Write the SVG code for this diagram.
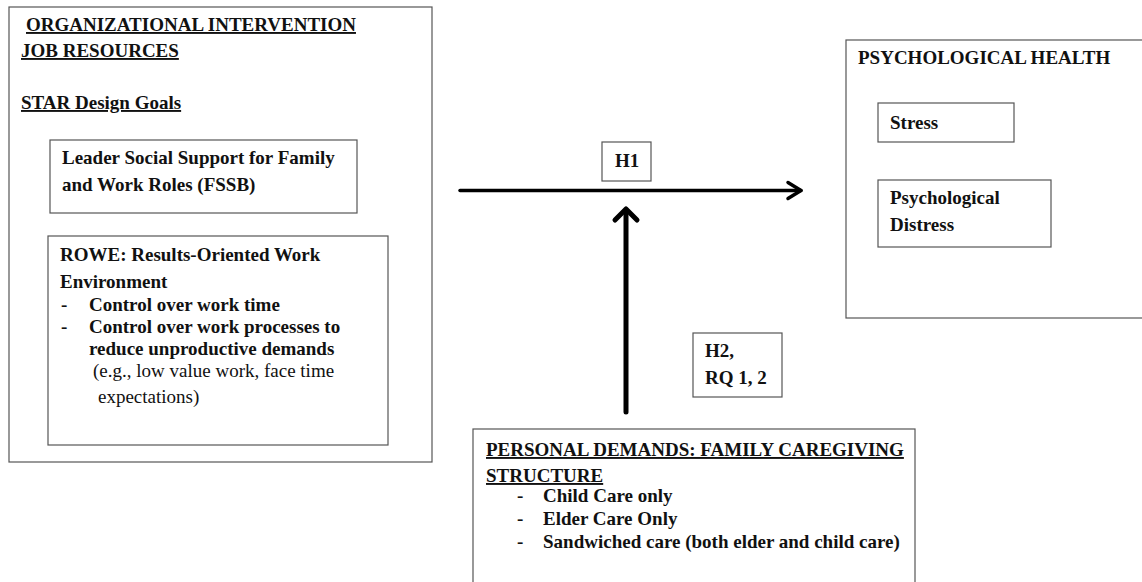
<svg xmlns="http://www.w3.org/2000/svg" width="1142" height="582" viewBox="0 0 1142 582">
<style>
.box{fill:#fff;stroke:#555;stroke-width:1.2}
text{font-family:'Liberation Serif','Times New Roman',serif;fill:#111;font-size:19px}
.b{font-weight:bold}
.u{text-decoration:underline}
.r{font-weight:normal}
.conn{stroke:#000;fill:none;stroke-linecap:round;stroke-linejoin:round}
</style>
<rect width="1142" height="582" fill="#fff"/>
<g id="organizational-intervention">
<rect class="box" x="9" y="7" width="423" height="455"/>
<text class="b u" x="26" y="31">ORGANIZATIONAL INTERVENTION</text>
<text class="b u" x="21" y="57">JOB RESOURCES</text>
<text class="b u" x="21" y="109">STAR Design Goals</text>
</g>
<g id="fssb">
<rect class="box" x="50" y="140" width="307" height="73"/>
<text class="b" x="62" y="164">Leader Social Support for Family</text>
<text class="b" x="62" y="191">and Work Roles (FSSB)</text>
</g>
<g id="rowe">
<rect class="box" x="48" y="236" width="340" height="209"/>
<text class="b" x="60" y="261">ROWE: Results-Oriented Work</text>
<text class="b" x="60" y="288">Environment</text>
<text class="b" x="61" y="311">-</text>
<text class="b" x="89" y="311">Control over work time</text>
<text class="b" x="61" y="333">-</text>
<text class="b" x="89" y="333">Control over work processes to</text>
<text class="b" x="89" y="355">reduce unproductive demands</text>
<text class="r" x="93" y="377">(e.g., low value work, face time</text>
<text class="r" x="98" y="403">expectations)</text>
</g>
<g id="psychological-health">
<rect class="box" x="846" y="40" width="300" height="278"/>
<text class="b" x="858" y="64">PSYCHOLOGICAL HEALTH</text>
</g>
<g id="stress">
<rect class="box" x="878" y="103" width="136" height="39"/>
<text class="b" x="890" y="129">Stress</text>
</g>
<g id="distress">
<rect class="box" x="878" y="180" width="173" height="67"/>
<text class="b" x="890" y="204">Psychological</text>
<text class="b" x="890" y="231">Distress</text>
</g>
<g id="personal-demands">
<rect class="box" x="473" y="429" width="442" height="160"/>
<text class="b u" x="486" y="456">PERSONAL DEMANDS: FAMILY CAREGIVING</text>
<text class="b u" x="486" y="482">STRUCTURE</text>
<text class="b" x="517" y="502">-</text>
<text class="b" x="543" y="502">Child Care only</text>
<text class="b" x="517" y="525">-</text>
<text class="b" x="543" y="525">Elder Care Only</text>
<text class="b" x="517" y="548">-</text>
<text class="b" x="543" y="548">Sandwiched care (both elder and child care)</text>
</g>
<g id="h1">
<rect class="box" x="602" y="142" width="49" height="39"/>
<text class="b" x="615" y="167">H1</text>
</g>
<g id="h2">
<rect class="box" x="693" y="333" width="89" height="64"/>
<text class="b" x="705" y="357">H2,</text>
<text class="b" x="705" y="384">RQ 1, 2</text>
</g>
<g id="connectors">
<path class="conn" stroke-width="3.5" d="M460 190.5H801"/>
<path class="conn" stroke-width="3.5" d="M788 182.5L801 190.5L788 198.5"/>
<path class="conn" stroke-width="5" d="M626 412V210"/>
<path class="conn" stroke-width="5" d="M615 220L626 209L637 220"/>
</g>
</svg>
